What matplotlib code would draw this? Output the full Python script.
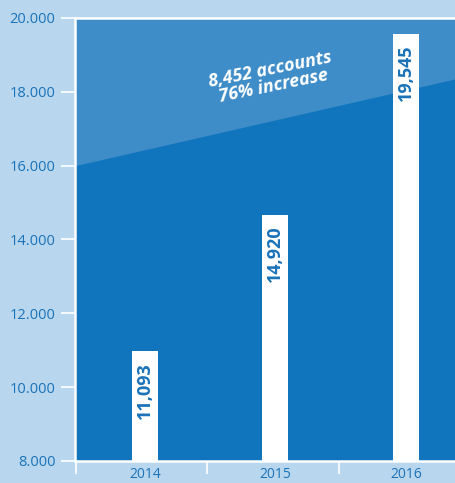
import numpy as np
import matplotlib
matplotlib.use('Agg')
import matplotlib.pyplot as plt
from matplotlib.ticker import FuncFormatter, FixedLocator

# data
years = ['2014', '2015', '2016']
heights = [10980, 14670, 19570]
labels = ['11,093', '14,920', '19,545']
band_start = 16000   # lighter band lower edge at left of plot
band_end = 18450     # lower edge at right of plot
note = '8,452 accounts\n76% increase'

bg = '#b8d7ef'
dark = '#1175bd'
light = '#3f8dc8'
txt = '#1a72b8'

plt.rcParams['font.family'] = ['Open Sans', 'DejaVu Sans']

fig = plt.figure(figsize=(4.55, 4.83), dpi=100, facecolor=bg)
ax = fig.add_axes([75 / 455, 22 / 483, (471 - 75) / 455, 443 / 483])
ax.set_facecolor(dark)

x = np.arange(len(years))
xmin, xmax = -0.535, 2.5
ax.set_xlim(xmin, xmax)
ax.set_ylim(8000, 20000)

# lighter band at the top
ax.fill_between([xmin, xmax], [band_start, band_end], [20000, 20000],
                color=light, lw=0, zorder=1)

ax.bar(x, heights, width=0.2, color='white', zorder=2)
for xi, h, lab in zip(x, heights, labels):
    ax.text(xi, h - 300, lab, rotation=90, ha='center', va='top',
            color=txt, fontsize=13, fontweight='bold', zorder=3)

ax.text(0.97, 18380, note, rotation=11.5, ha='center', va='center',
        color='white', fontsize=13, fontweight='bold', fontstyle='italic',
        linespacing=0.9, zorder=3)

for s in ['top', 'left', 'bottom']:
    ax.spines[s].set_color('white')
    ax.spines[s].set_linewidth(1.8)
ax.spines['right'].set_visible(False)

ax.set_yticks(np.arange(8000, 20001, 2000))
ax.yaxis.set_major_formatter(FuncFormatter(lambda v, p: f'{int(v):,}'.replace(',', '.')))
ax.tick_params(axis='y', colors='white', labelcolor=txt, labelsize=10.5,
               length=10, width=1.2, pad=4)

ax.set_xticks(x)
ax.set_xticklabels(years)
ax.xaxis.set_minor_locator(FixedLocator([-0.53, 0.477, 1.492]))
ax.tick_params(axis='x', which='major', length=0, labelcolor=txt,
               labelsize=10, pad=4)
ax.tick_params(axis='x', which='minor', length=9, width=1.2, colors='white')

fig.savefig('out.png', dpi=100, facecolor=bg)
